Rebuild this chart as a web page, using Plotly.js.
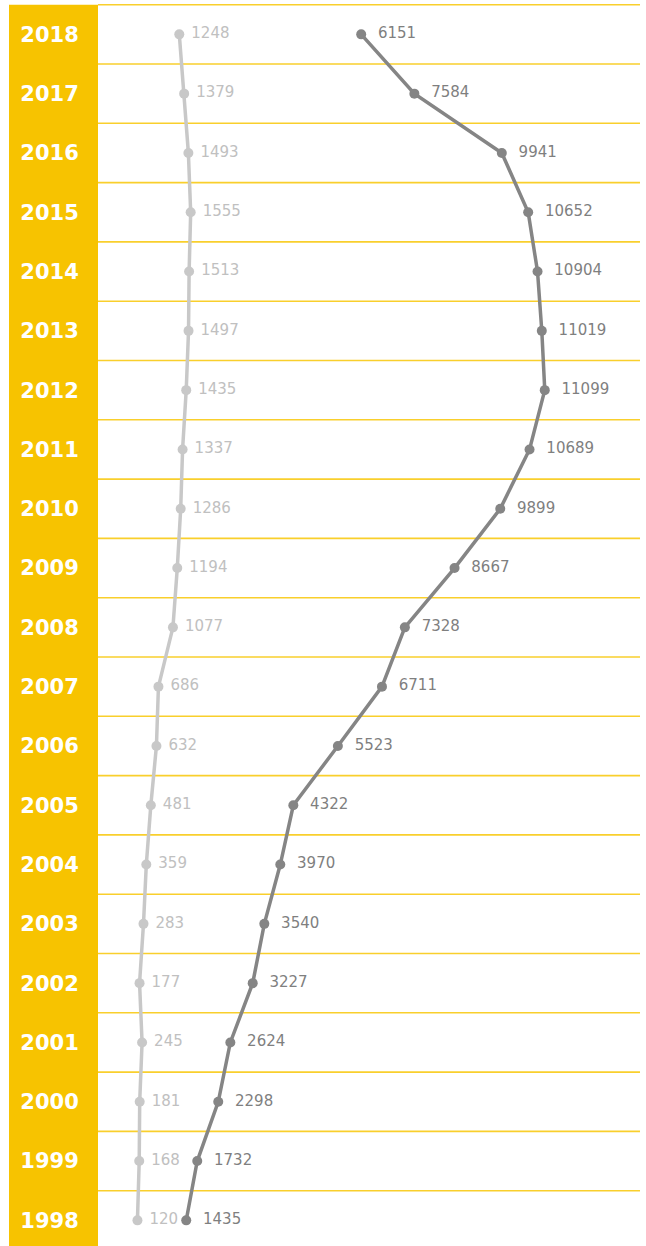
<!DOCTYPE html>
<html>
<head>
<meta charset="utf-8">
<script src="https://cdn.plot.ly/plotly-3.0.1.min.js"></script>
<style>html,body{margin:0;padding:0;background:#fff;}#chart{width:646px;height:1246px;}</style>
</head>
<body>
<div id="chart"></div>
<script>
const years = [1998,1999,2000,2001,2002,2003,2004,2005,2006,2007,2008,2009,2010,2011,2012,2013,2014,2015,2016,2017,2018];
const seriesLight = [120,168,181,245,177,283,359,481,632,686,1077,1194,1286,1337,1435,1497,1513,1555,1493,1379,1248];
const seriesDark = [1435,1732,2298,2624,3227,3540,3970,4322,5523,6711,7328,8667,9899,10689,11099,11019,10904,10652,9941,7584,6151];
const yearLabels = years.map(String);

const NB = '\u00a0';
const traces = [
  {
    x: seriesLight, y: years, type: 'scatter', mode: 'lines+markers+text',
    line: {color: '#C8C8C8', width: 3.5},
    marker: {color: '#C8C8C8', size: 10},
    text: seriesLight.map(v => NB + String(v)),
    textposition: 'middle right',
    textfont: {family: 'DejaVu Sans, Verdana, sans-serif', size: 15, color: '#C0C0C0'},
    hoverinfo: 'skip', cliponaxis: false
  },
  {
    x: seriesDark, y: years, type: 'scatter', mode: 'lines+markers+text',
    line: {color: '#858585', width: 3.5},
    marker: {color: '#858585', size: 10},
    text: seriesDark.map(v => NB + NB + String(v)),
    textposition: 'middle right',
    textfont: {family: 'DejaVu Sans, Verdana, sans-serif', size: 15, color: '#7F7F7F'},
    hoverinfo: 'skip', cliponaxis: false
  }
];

const shapes = [{
  type: 'rect', xref: 'paper', yref: 'paper',
  x0: -89/542, x1: 0, y0: -0.01, y1: (1246 - 4.7) / 1243,
  fillcolor: '#F7C300', line: {width: 0}, layer: 'below'
}];
years.forEach(yr => {
  shapes.push({
    type: 'line', xref: 'paper', yref: 'y',
    x0: 0, x1: 1, y0: yr + 0.5, y1: yr + 0.5,
    line: {color: '#F9CF2C', width: 1.6}, layer: 'below'
  });
});

const layout = {
  width: 646, height: 1246,
  margin: {l: 98, r: 6, t: 3, b: 0, pad: 0},
  paper_bgcolor: '#FFFFFF', plot_bgcolor: 'rgba(0,0,0,0)',
  showlegend: false,
  xaxis: {
    range: [-943, 13666], showgrid: false, zeroline: false,
    showticklabels: false, ticks: '', showline: false, fixedrange: true
  },
  yaxis: {
    range: [1997.5 + 4/59.3, 2018.5 + 1.7/59.3], showgrid: false, zeroline: false,
    tickvals: years, ticktext: yearLabels,
    ticks: 'outside', ticklen: 14, tickcolor: 'rgba(0,0,0,0)',
    tickfont: {family: 'DejaVu Sans, Verdana, sans-serif', size: 21, color: '#FFFFFF', weight: 'bold'},
    showline: false, fixedrange: true
  },
  shapes: shapes
};

Plotly.newPlot('chart', traces, layout, {displayModeBar: false, staticPlot: true});
</script>
</body>
</html>
